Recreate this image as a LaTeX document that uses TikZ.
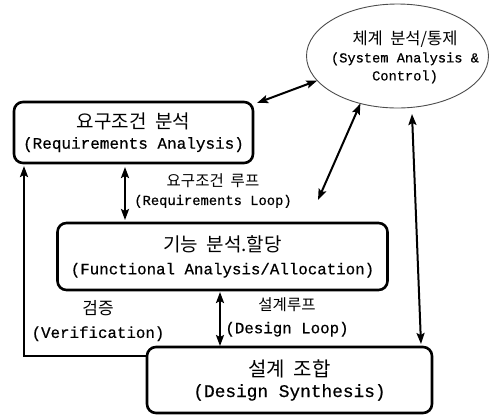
\documentclass[tikz,border=0pt]{standalone}
\usepackage{fontspec}
\setmainfont{Liberation Mono}[FakeBold=0.5]
\newfontfamily\kr{Noto Sans CJK KR}
\usetikzlibrary{shapes.geometric,arrows.meta}

\tikzset{
  box/.style={draw, line width=2.6pt, rounded corners=9pt, align=center,
              inner sep=0pt, outer sep=0pt},
  link/.style={line width=2pt, {Stealth[length=11pt,width=8pt,inset=2pt]}-{Stealth[length=11pt,width=8pt,inset=2pt]}},
  lbl/.style={align=center, inner sep=0pt},
}
\newcommand{\gap}{\hspace{0.45em}}

\begin{document}
\begin{tikzpicture}[x=1pt,y=-1pt]
\useasboundingbox (0,0) rectangle (492,416);

% system analysis & control
\node[ellipse, draw=black!70, line width=0.9pt, minimum width=182pt,
      minimum height=104pt, inner sep=0pt, outer sep=0pt] (ell) at (397.5,56) {};
\node[lbl, font=\fontsize{13.7}{18}\selectfont] (elltxt) at (405,57)
  {{\kr\fontsize{16.5}{18}\selectfont 체계\gap 분석/통제}\\(System Analysis \&\\Control)};

% process boxes
\node[box, minimum width=239pt, minimum height=61pt,
      font=\fontsize{16}{20}\selectfont] (req) at (133.5,132.5)
  {{\kr\fontsize{19}{20}\selectfont 요구조건\gap 분석}\\(Requirements Analysis)};
\node[box, minimum width=330pt, minimum height=67pt,
      font=\fontsize{15.8}{23}\selectfont] (fun) at (222.5,256.5)
  {{\kr\fontsize{19}{23}\selectfont 기능\gap 분석.할당}\\(Functional Analysis/Allocation)};
\node[box, minimum width=285pt, minimum height=66pt,
      font=\fontsize{17.8}{21}\selectfont] (syn) at (289.5,380)
  {{\kr\fontsize{20}{21}\selectfont 설계\gap 조합}\\(Design Synthesis)};

% loop labels
\node[lbl, font=\fontsize{13.8}{18}\selectfont] (rl) at (213,191)
  {{\kr\fontsize{15.5}{18}\selectfont 요구조건\gap 루프}\\(Requirements Loop)};
\node[lbl, font=\fontsize{15.8}{23}\selectfont] (dl) at (287,317)
  {{\kr\fontsize{15.5}{23}\selectfont 설계루프}\\(Design Loop)};
\node[lbl, font=\fontsize{15.8}{23}\selectfont] (vl) at (98,321)
  {{\kr\fontsize{17}{23}\selectfont 검증}\\(Verification)};

% connectors
\coordinate (fe) at (318,200);
\draw[link] ([xshift=4pt,yshift=-1pt]req.north east) -- (ell.197);
\draw[link] (fe) -- (ell.232);
\draw[link] ([xshift=14.5pt,yshift=-6pt]ell.south) -- ([xshift=-11pt,yshift=3pt]syn.north east);
\draw[link] ([xshift=-8.5pt,yshift=-4pt]req.south) -- ([xshift=-97.5pt,yshift=3pt]fun.north);
\draw[link] ([xshift=-2.5pt,yshift=-2pt]fun.south) -- ([xshift=-69.5pt,yshift=1pt]syn.north);
\draw[line width=2.6pt, -{Stealth[length=11pt,width=8pt,inset=2pt]}]
  ([yshift=-9pt]syn.north west) -| ([xshift=10pt,yshift=-3pt]req.south west);
\end{tikzpicture}
\end{document}
